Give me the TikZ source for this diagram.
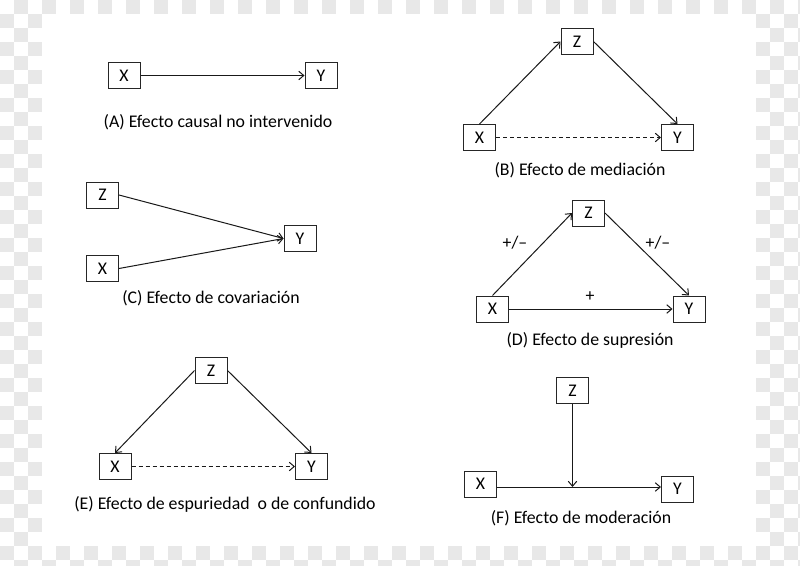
\documentclass[tikz,border=0pt]{standalone}
\usepackage{fontspec}
\setmainfont{Carlito}
\usetikzlibrary{arrows.meta,positioning}
\definecolor{cuadro}{HTML}{E8E8E8}
\tikzset{
  caja/.style={draw=black!85,line width=1pt,fill=white,minimum width=32pt,minimum height=26pt,inner sep=0pt},
  flecha/.style={draw=black!90,line width=1pt,-{Straight Barb[length=5pt,width=8.5pt]}},
  rayas/.style={dash pattern=on 4pt off 3pt},
  rotulo/.style={inner sep=0pt}
}
\begin{document}
\begin{tikzpicture}[x=1pt,y=-1pt,font=\fontsize{17.8}{20}\selectfont]
\useasboundingbox (0,0) rectangle (800,565);
% fondo a cuadros
\fill[white] (0,0) rectangle (800,565);
\foreach \i in {0,2,...,56}
  \foreach \j in {1,3,...,39}
    \fill[cuadro] (\i*14,\j*14) rectangle ++(14,14);
\foreach \i in {1,3,...,57}
  \foreach \j in {0,2,...,40}
    \fill[cuadro] (\i*14,\j*14) rectangle ++(14,14);
\fill[white] (42,14) rectangle (756,546);

% (A)
\node[caja] (xa) at (124,75.5) {X};
\node[caja] (ya) at (321,75.5) {Y};
\draw[flecha] (xa) -- (ya);
\node[rotulo] (ca) at (218,122) {(A) Efecto causal no intervenido};

% (B)
\node[caja] (zb) at (577,41.5) {Z};
\node[caja] (xb) at (479.5,137.5) {X};
\node[caja] (yb) at (677.5,137.5) {Y};
\draw[flecha] (xb.north) -- (zb.west);
\draw[flecha] (zb.east) -- (yb.north);
\draw[flecha,rayas] (xb) -- (yb);
\node[rotulo] (cb) at (580,170) {(B) Efecto de mediación};

% (C)
\node[caja] (zc) at (102.5,195) {Z};
\node[caja] (xc) at (102.5,268.5) {X};
\node[caja] (yc) at (300,238.5) {Y};
\draw[flecha] (zc.east) -- (yc.west);
\draw[flecha] (xc.east) -- (yc.west);
\node[rotulo] (cc) at (211,298) {(C) Efecto de covariación};

% (D)
\node[caja] (zd) at (588.5,213) {Z};
\node[caja] (xd) at (492.5,309) {X};
\node[caja] (yd) at (689,309) {Y};
\draw[flecha] (xd.north) -- (zd.west);
\draw[flecha] (zd.east) -- (yd.north);
\draw[flecha] (xd) -- (yd);
\node[rotulo] (sd1) at (515,243) {+/–};
\node[rotulo] (sd2) at (658,243) {+/–};
\node[rotulo] (sd3) at (590,297) {+};
\node[rotulo] (cd) at (590,340) {(D) Efecto de supresión};

% (E)
\node[caja] (ze) at (211,370.5) {Z};
\node[caja] (xe) at (115,466.5) {X};
\node[caja] (ye) at (311.5,466.5) {Y};
\draw[flecha] (ze.west) -- (xe.north);
\draw[flecha] (ze.east) -- (ye.north);
\draw[flecha,rayas] (xe) -- (ye);
\node[rotulo] (ce) at (225,504) {(E) Efecto de espuriedad \ o de confundido};

% (F)
\node[caja] (zf) at (572.5,390.5) {Z};
\node[caja] (xf) at (480.5,484) {X};
\node[caja] (yf) at (677.5,489) {Y};
\coordinate (mf) at (572.5,487);
\draw[flecha] (xf.east |- mf) -- (mf -| yf.west);
\draw[flecha] (zf) -- (mf);
\node[rotulo] (cf) at (581,518) {(F) Efecto de moderación};
\end{tikzpicture}
\end{document}
